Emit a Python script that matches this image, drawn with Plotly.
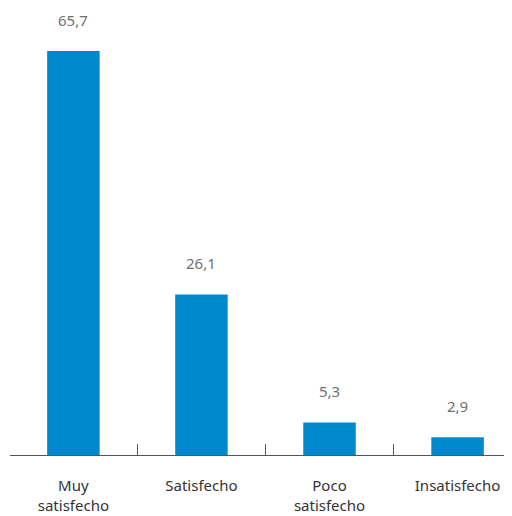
import plotly.graph_objects as go

categories = ["Muy<br>satisfecho", "Satisfecho", "Poco<br>satisfecho", "Insatisfecho"]
values = [65.7, 26.1, 5.3, 2.9]
value_labels = ["65,7", "26,1", "5,3", "2,9"]
boundaries = [0.5, 1.5, 2.5]

bar_color = "#0088CC"

fig = go.Figure()
fig.add_trace(go.Bar(
    x=list(range(len(categories))),
    y=values,
    width=0.41,
    marker=dict(color=bar_color, line=dict(width=0)),
    hoverinfo="skip",
))

for i, (v, t) in enumerate(zip(values, value_labels)):
    fig.add_annotation(
        x=i, y=v, text=t, showarrow=False, yanchor="middle", yshift=31,
        font=dict(family="Noto Sans", size=15, color="#6f6f6f"),
    )

fig.update_layout(
    width=504, height=508,
    margin=dict(l=2, r=0, t=0, b=61),
    paper_bgcolor="white", plot_bgcolor="white",
    showlegend=False,
    font=dict(family="Noto Sans", size=15, color="#333333"),
    xaxis=dict(
        range=[-0.495, 3.425],
        tickmode="array",
        tickvals=list(range(len(categories))),
        ticktext=categories,
        ticks="",
        showline=True, linecolor="#555555", linewidth=1,
        showgrid=False, zeroline=False,
        ticklabelstandoff=17,
        tickfont=dict(family="Noto Sans", size=15, color="#333333"),
    ),
    xaxis2=dict(
        overlaying="x", matches="x", side="bottom",
        tickmode="array", tickvals=boundaries,
        ticks="inside", ticklen=11, tickwidth=1, tickcolor="#555555",
        showticklabels=False, showgrid=False, zeroline=False, showline=False,
        anchor="y",
    ),
    yaxis=dict(range=[0, 72.68], visible=False),
)
# invisible helper trace to activate xaxis2 for boundary ticks
fig.add_trace(go.Scatter(x=boundaries, y=[0, 0, 0], xaxis="x2", mode="markers",
                         marker=dict(opacity=0), hoverinfo="skip"))

fig.write_html("out.html")
